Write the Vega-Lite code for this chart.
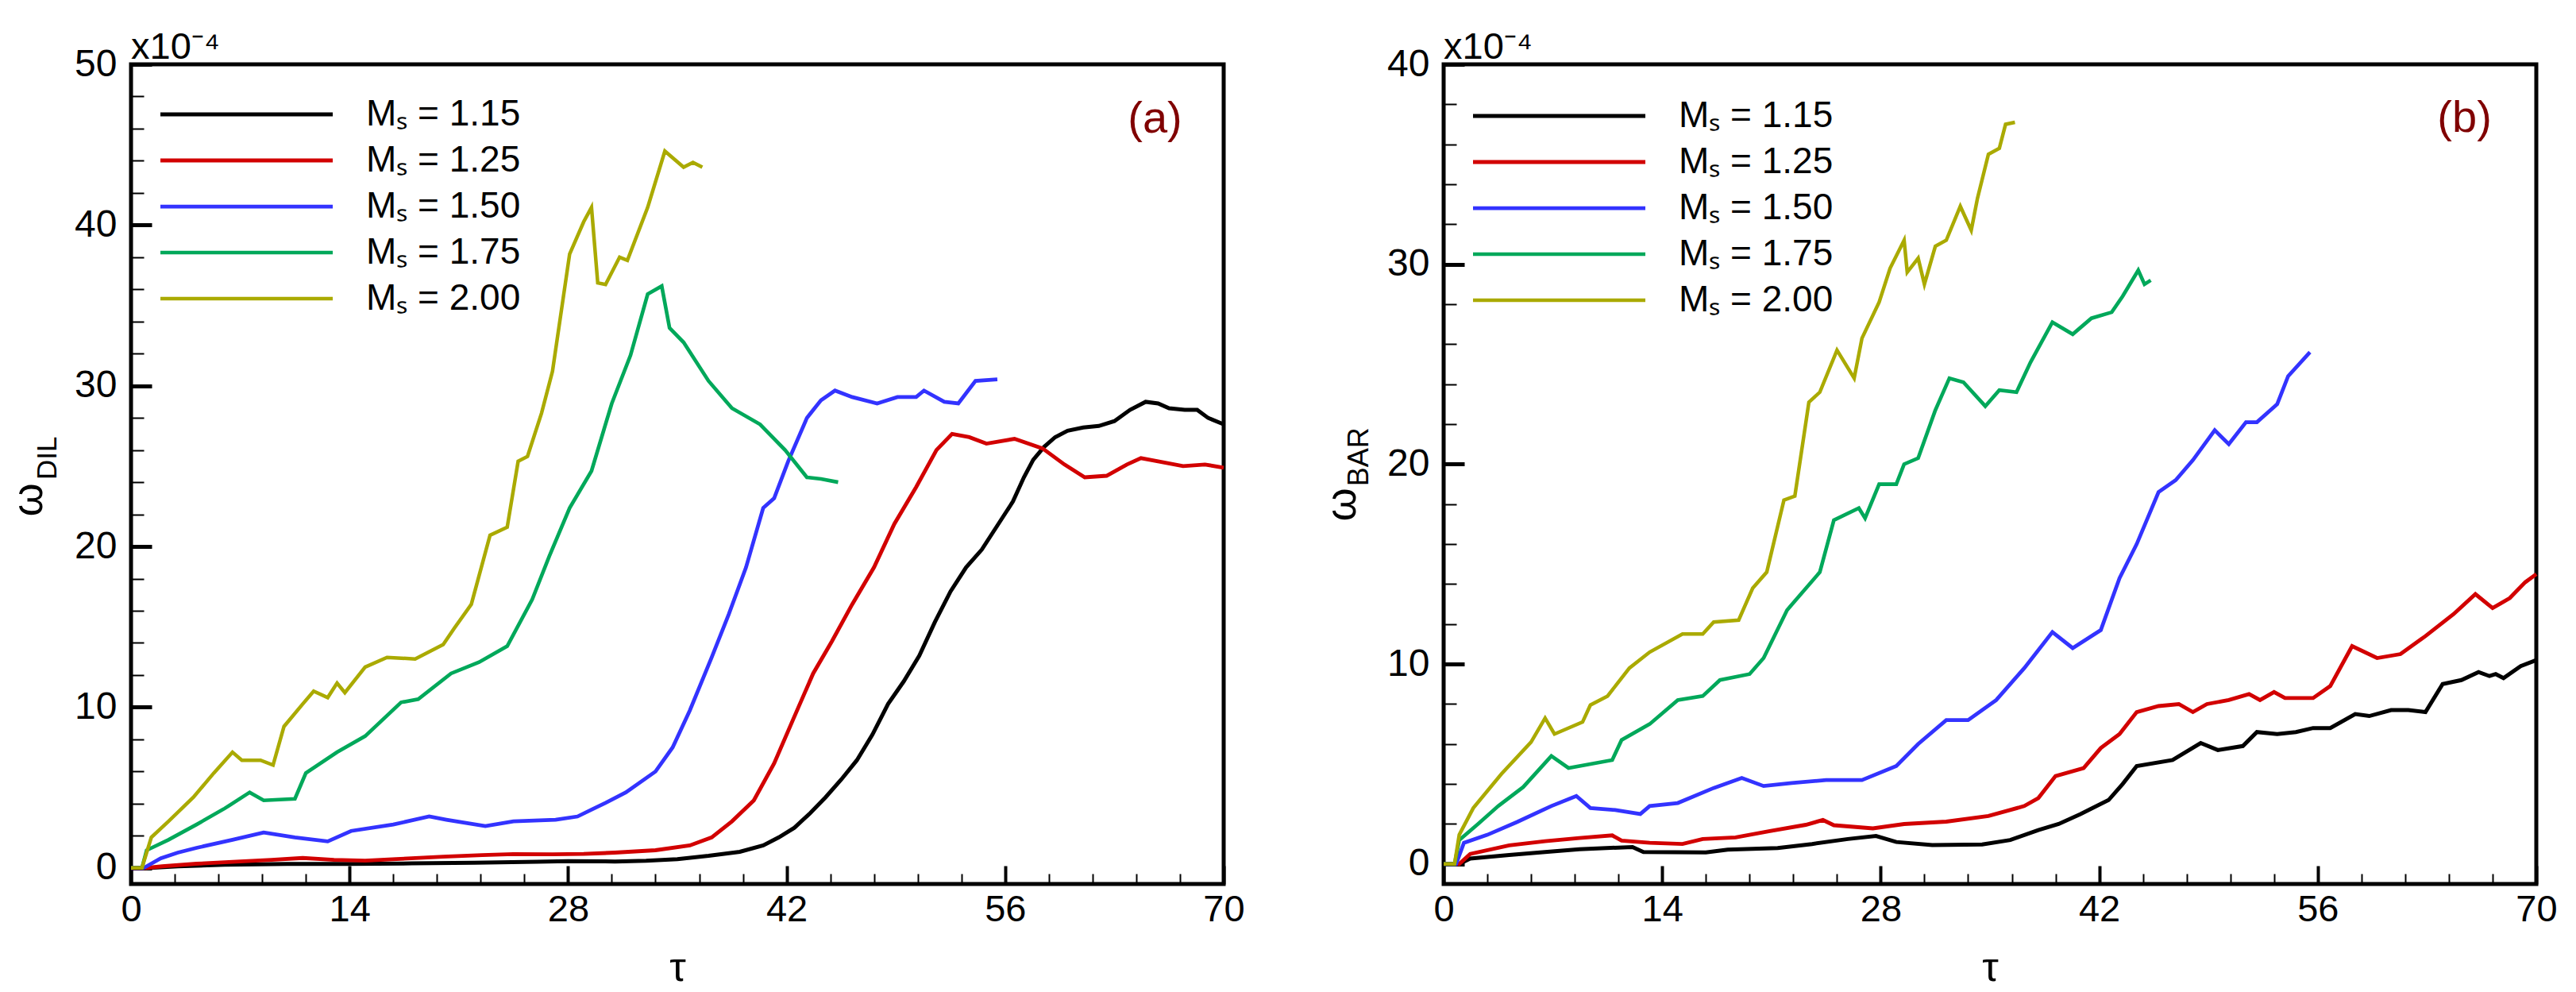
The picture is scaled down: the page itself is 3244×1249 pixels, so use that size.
{
  "$schema": "https://vega.github.io/schema/vega-lite/v6.json",
  "background": "white",
  "padding": {"left": 6, "top": 33, "right": 5, "bottom": 5},
  "spacing": 90,
  "datasets": {
    "dil": [
      {"m": "1.15", "t": 0, "w": 0}, {"m": "1.15", "t": 1.2, "w": 0}, {"m": "1.15", "t": 3, "w": 0.1}, {"m": "1.15", "t": 6, "w": 0.2},
      {"m": "1.15", "t": 10, "w": 0.25}, {"m": "1.15", "t": 14, "w": 0.25}, {"m": "1.15", "t": 18, "w": 0.28}, {"m": "1.15", "t": 22, "w": 0.32},
      {"m": "1.15", "t": 26, "w": 0.38}, {"m": "1.15", "t": 28, "w": 0.42}, {"m": "1.15", "t": 31, "w": 0.4}, {"m": "1.15", "t": 33, "w": 0.45},
      {"m": "1.15", "t": 35, "w": 0.55}, {"m": "1.15", "t": 37, "w": 0.75}, {"m": "1.15", "t": 39, "w": 1.0}, {"m": "1.15", "t": 40.5, "w": 1.4},
      {"m": "1.15", "t": 41.5, "w": 1.9}, {"m": "1.15", "t": 42.5, "w": 2.5}, {"m": "1.15", "t": 43.5, "w": 3.4}, {"m": "1.15", "t": 44.5, "w": 4.4},
      {"m": "1.15", "t": 45.5, "w": 5.5}, {"m": "1.15", "t": 46.5, "w": 6.7}, {"m": "1.15", "t": 47.5, "w": 8.3}, {"m": "1.15", "t": 48.5, "w": 10.2},
      {"m": "1.15", "t": 49.5, "w": 11.6}, {"m": "1.15", "t": 50.5, "w": 13.2}, {"m": "1.15", "t": 51.5, "w": 15.3}, {"m": "1.15", "t": 52.5, "w": 17.2},
      {"m": "1.15", "t": 53.5, "w": 18.7}, {"m": "1.15", "t": 54.5, "w": 19.8}, {"m": "1.15", "t": 55.5, "w": 21.3}, {"m": "1.15", "t": 56.5, "w": 22.8},
      {"m": "1.15", "t": 57.2, "w": 24.3}, {"m": "1.15", "t": 57.8, "w": 25.4}, {"m": "1.15", "t": 58.5, "w": 26.2}, {"m": "1.15", "t": 59.2, "w": 26.8},
      {"m": "1.15", "t": 60, "w": 27.2}, {"m": "1.15", "t": 61, "w": 27.4}, {"m": "1.15", "t": 62, "w": 27.5}, {"m": "1.15", "t": 63, "w": 27.8},
      {"m": "1.15", "t": 64, "w": 28.5}, {"m": "1.15", "t": 65, "w": 29.0}, {"m": "1.15", "t": 65.8, "w": 28.9}, {"m": "1.15", "t": 66.5, "w": 28.6},
      {"m": "1.15", "t": 67.5, "w": 28.5}, {"m": "1.15", "t": 68.3, "w": 28.5}, {"m": "1.15", "t": 69, "w": 28.0}, {"m": "1.15", "t": 70, "w": 27.6},

      {"m": "1.25", "t": 0, "w": 0}, {"m": "1.25", "t": 1, "w": 0}, {"m": "1.25", "t": 2, "w": 0.1}, {"m": "1.25", "t": 4.2, "w": 0.26},
      {"m": "1.25", "t": 7, "w": 0.4}, {"m": "1.25", "t": 9, "w": 0.5}, {"m": "1.25", "t": 11, "w": 0.62}, {"m": "1.25", "t": 13, "w": 0.5},
      {"m": "1.25", "t": 15, "w": 0.45}, {"m": "1.25", "t": 17, "w": 0.55}, {"m": "1.25", "t": 20, "w": 0.7}, {"m": "1.25", "t": 22.5, "w": 0.8},
      {"m": "1.25", "t": 24.5, "w": 0.86}, {"m": "1.25", "t": 27, "w": 0.85}, {"m": "1.25", "t": 29, "w": 0.87}, {"m": "1.25", "t": 31, "w": 0.95},
      {"m": "1.25", "t": 33.6, "w": 1.1}, {"m": "1.25", "t": 35.8, "w": 1.4}, {"m": "1.25", "t": 37.2, "w": 1.9}, {"m": "1.25", "t": 38.5, "w": 2.9},
      {"m": "1.25", "t": 39.9, "w": 4.2}, {"m": "1.25", "t": 41.2, "w": 6.5}, {"m": "1.25", "t": 42.4, "w": 9.2}, {"m": "1.25", "t": 43.7, "w": 12.1},
      {"m": "1.25", "t": 44.9, "w": 14.1}, {"m": "1.25", "t": 46.2, "w": 16.4}, {"m": "1.25", "t": 47.6, "w": 18.7}, {"m": "1.25", "t": 48.9, "w": 21.4},
      {"m": "1.25", "t": 50.3, "w": 23.7}, {"m": "1.25", "t": 51.6, "w": 26.0}, {"m": "1.25", "t": 52.6, "w": 27.0}, {"m": "1.25", "t": 53.7, "w": 26.8},
      {"m": "1.25", "t": 54.8, "w": 26.4}, {"m": "1.25", "t": 56.6, "w": 26.7}, {"m": "1.25", "t": 58.4, "w": 26.1}, {"m": "1.25", "t": 59.8, "w": 25.1},
      {"m": "1.25", "t": 61.1, "w": 24.3}, {"m": "1.25", "t": 62.5, "w": 24.4}, {"m": "1.25", "t": 63.8, "w": 25.1}, {"m": "1.25", "t": 64.7, "w": 25.5},
      {"m": "1.25", "t": 65.8, "w": 25.3}, {"m": "1.25", "t": 67.4, "w": 25.0}, {"m": "1.25", "t": 68.8, "w": 25.1}, {"m": "1.25", "t": 70, "w": 24.9},

      {"m": "1.50", "t": 0, "w": 0}, {"m": "1.50", "t": 0.8, "w": 0}, {"m": "1.50", "t": 1.0, "w": 0.1}, {"m": "1.50", "t": 1.9, "w": 0.6},
      {"m": "1.50", "t": 3, "w": 0.95}, {"m": "1.50", "t": 4.2, "w": 1.25}, {"m": "1.50", "t": 6.5, "w": 1.75}, {"m": "1.50", "t": 8.5, "w": 2.2},
      {"m": "1.50", "t": 10.5, "w": 1.9}, {"m": "1.50", "t": 12.6, "w": 1.65}, {"m": "1.50", "t": 14.1, "w": 2.3}, {"m": "1.50", "t": 16.8, "w": 2.7},
      {"m": "1.50", "t": 19.1, "w": 3.2}, {"m": "1.50", "t": 20.2, "w": 3.0}, {"m": "1.50", "t": 22.7, "w": 2.6}, {"m": "1.50", "t": 24.5, "w": 2.9},
      {"m": "1.50", "t": 27.2, "w": 3.0}, {"m": "1.50", "t": 28.6, "w": 3.2}, {"m": "1.50", "t": 30.4, "w": 4.05}, {"m": "1.50", "t": 31.7, "w": 4.7},
      {"m": "1.50", "t": 33.6, "w": 6.0}, {"m": "1.50", "t": 34.7, "w": 7.5}, {"m": "1.50", "t": 35.8, "w": 9.8}, {"m": "1.50", "t": 37.2, "w": 13.1},
      {"m": "1.50", "t": 38.3, "w": 15.8}, {"m": "1.50", "t": 39.4, "w": 18.7}, {"m": "1.50", "t": 40.5, "w": 22.4}, {"m": "1.50", "t": 41.2, "w": 23.0},
      {"m": "1.50", "t": 42.1, "w": 25.3}, {"m": "1.50", "t": 43.3, "w": 28.0}, {"m": "1.50", "t": 44.2, "w": 29.1}, {"m": "1.50", "t": 45.1, "w": 29.7},
      {"m": "1.50", "t": 46.2, "w": 29.3}, {"m": "1.50", "t": 47.8, "w": 28.9}, {"m": "1.50", "t": 49.1, "w": 29.3}, {"m": "1.50", "t": 50.3, "w": 29.3},
      {"m": "1.50", "t": 50.8, "w": 29.7}, {"m": "1.50", "t": 52.1, "w": 29.0}, {"m": "1.50", "t": 53, "w": 28.9}, {"m": "1.50", "t": 54.1, "w": 30.3},
      {"m": "1.50", "t": 55.5, "w": 30.4},

      {"m": "1.75", "t": 0, "w": 0}, {"m": "1.75", "t": 0.7, "w": 0}, {"m": "1.75", "t": 1, "w": 1.1}, {"m": "1.75", "t": 2.4, "w": 1.75},
      {"m": "1.75", "t": 4.2, "w": 2.7}, {"m": "1.75", "t": 6, "w": 3.7}, {"m": "1.75", "t": 7.6, "w": 4.7}, {"m": "1.75", "t": 8.5, "w": 4.2},
      {"m": "1.75", "t": 10.5, "w": 4.3}, {"m": "1.75", "t": 11.2, "w": 5.9}, {"m": "1.75", "t": 13.2, "w": 7.2}, {"m": "1.75", "t": 15, "w": 8.2},
      {"m": "1.75", "t": 17.3, "w": 10.3}, {"m": "1.75", "t": 18.4, "w": 10.5}, {"m": "1.75", "t": 20.5, "w": 12.1}, {"m": "1.75", "t": 22.3, "w": 12.8},
      {"m": "1.75", "t": 24.1, "w": 13.8}, {"m": "1.75", "t": 25.7, "w": 16.7}, {"m": "1.75", "t": 26.8, "w": 19.4}, {"m": "1.75", "t": 28.1, "w": 22.4},
      {"m": "1.75", "t": 29.5, "w": 24.7}, {"m": "1.75", "t": 30.8, "w": 28.9}, {"m": "1.75", "t": 32, "w": 31.9}, {"m": "1.75", "t": 33.1, "w": 35.7},
      {"m": "1.75", "t": 34, "w": 36.2}, {"m": "1.75", "t": 34.5, "w": 33.6}, {"m": "1.75", "t": 35.4, "w": 32.7}, {"m": "1.75", "t": 37, "w": 30.3},
      {"m": "1.75", "t": 38.5, "w": 28.6}, {"m": "1.75", "t": 40.3, "w": 27.6}, {"m": "1.75", "t": 41.9, "w": 26.0}, {"m": "1.75", "t": 43.3, "w": 24.3},
      {"m": "1.75", "t": 44.2, "w": 24.2}, {"m": "1.75", "t": 45.3, "w": 24.0},

      {"m": "2.00", "t": 0, "w": 0}, {"m": "2.00", "t": 0.7, "w": 0}, {"m": "2.00", "t": 1.3, "w": 1.9}, {"m": "2.00", "t": 2.4, "w": 2.9},
      {"m": "2.00", "t": 4, "w": 4.4}, {"m": "2.00", "t": 5.3, "w": 5.9}, {"m": "2.00", "t": 6.5, "w": 7.2}, {"m": "2.00", "t": 7.1, "w": 6.7},
      {"m": "2.00", "t": 8.3, "w": 6.7}, {"m": "2.00", "t": 9.1, "w": 6.4}, {"m": "2.00", "t": 9.8, "w": 8.8}, {"m": "2.00", "t": 11, "w": 10.2},
      {"m": "2.00", "t": 11.7, "w": 11.0}, {"m": "2.00", "t": 12.6, "w": 10.6}, {"m": "2.00", "t": 13.2, "w": 11.5}, {"m": "2.00", "t": 13.7, "w": 10.9},
      {"m": "2.00", "t": 15, "w": 12.5}, {"m": "2.00", "t": 16.4, "w": 13.1}, {"m": "2.00", "t": 18.2, "w": 13.0}, {"m": "2.00", "t": 20, "w": 13.9},
      {"m": "2.00", "t": 20.7, "w": 14.9}, {"m": "2.00", "t": 21.8, "w": 16.4}, {"m": "2.00", "t": 23, "w": 20.7}, {"m": "2.00", "t": 24.1, "w": 21.2},
      {"m": "2.00", "t": 24.8, "w": 25.3}, {"m": "2.00", "t": 25.4, "w": 25.6}, {"m": "2.00", "t": 26.3, "w": 28.3}, {"m": "2.00", "t": 27, "w": 30.9},
      {"m": "2.00", "t": 28.1, "w": 38.2}, {"m": "2.00", "t": 29, "w": 40.2}, {"m": "2.00", "t": 29.5, "w": 41.1}, {"m": "2.00", "t": 29.9, "w": 36.4},
      {"m": "2.00", "t": 30.4, "w": 36.3}, {"m": "2.00", "t": 31.3, "w": 38.0}, {"m": "2.00", "t": 31.8, "w": 37.8}, {"m": "2.00", "t": 33.1, "w": 41.1},
      {"m": "2.00", "t": 34.2, "w": 44.6}, {"m": "2.00", "t": 35.4, "w": 43.6}, {"m": "2.00", "t": 36, "w": 43.9}, {"m": "2.00", "t": 36.6, "w": 43.6}
    ],
    "bar": [
      {"m": "1.15", "t": 0, "w": 0}, {"m": "1.15", "t": 1, "w": 0}, {"m": "1.15", "t": 1.7, "w": 0.27}, {"m": "1.15", "t": 4.2, "w": 0.45},
      {"m": "1.15", "t": 6.5, "w": 0.6}, {"m": "1.15", "t": 8.7, "w": 0.74}, {"m": "1.15", "t": 12.1, "w": 0.85}, {"m": "1.15", "t": 12.8, "w": 0.6},
      {"m": "1.15", "t": 16.8, "w": 0.58}, {"m": "1.15", "t": 18.2, "w": 0.72}, {"m": "1.15", "t": 21.4, "w": 0.8}, {"m": "1.15", "t": 23.6, "w": 1.0},
      {"m": "1.15", "t": 25.9, "w": 1.25}, {"m": "1.15", "t": 27.7, "w": 1.4}, {"m": "1.15", "t": 29, "w": 1.1}, {"m": "1.15", "t": 31.3, "w": 0.95},
      {"m": "1.15", "t": 34.5, "w": 0.98}, {"m": "1.15", "t": 36.3, "w": 1.2}, {"m": "1.15", "t": 38.1, "w": 1.7}, {"m": "1.15", "t": 39.4, "w": 2.0},
      {"m": "1.15", "t": 40.8, "w": 2.5}, {"m": "1.15", "t": 42.6, "w": 3.2}, {"m": "1.15", "t": 43.5, "w": 4.0}, {"m": "1.15", "t": 44.4, "w": 4.9},
      {"m": "1.15", "t": 46.7, "w": 5.2}, {"m": "1.15", "t": 48.5, "w": 6.05}, {"m": "1.15", "t": 49.6, "w": 5.7}, {"m": "1.15", "t": 51.2, "w": 5.9},
      {"m": "1.15", "t": 52.1, "w": 6.6}, {"m": "1.15", "t": 53.4, "w": 6.5}, {"m": "1.15", "t": 54.6, "w": 6.6}, {"m": "1.15", "t": 55.7, "w": 6.8},
      {"m": "1.15", "t": 56.8, "w": 6.8}, {"m": "1.15", "t": 58.4, "w": 7.5}, {"m": "1.15", "t": 59.3, "w": 7.4}, {"m": "1.15", "t": 60.7, "w": 7.7},
      {"m": "1.15", "t": 61.8, "w": 7.7}, {"m": "1.15", "t": 62.9, "w": 7.6}, {"m": "1.15", "t": 64, "w": 9.0}, {"m": "1.15", "t": 65.2, "w": 9.2},
      {"m": "1.15", "t": 66.3, "w": 9.6}, {"m": "1.15", "t": 67, "w": 9.4}, {"m": "1.15", "t": 67.4, "w": 9.5}, {"m": "1.15", "t": 67.9, "w": 9.3},
      {"m": "1.15", "t": 69, "w": 9.9}, {"m": "1.15", "t": 70, "w": 10.2},

      {"m": "1.25", "t": 0, "w": 0}, {"m": "1.25", "t": 1, "w": 0}, {"m": "1.25", "t": 1.7, "w": 0.5}, {"m": "1.25", "t": 4.2, "w": 0.93},
      {"m": "1.25", "t": 6.5, "w": 1.14}, {"m": "1.25", "t": 8.7, "w": 1.3}, {"m": "1.25", "t": 10.8, "w": 1.43}, {"m": "1.25", "t": 11.4, "w": 1.17},
      {"m": "1.25", "t": 13.2, "w": 1.06}, {"m": "1.25", "t": 15.3, "w": 1.0}, {"m": "1.25", "t": 16.6, "w": 1.25}, {"m": "1.25", "t": 18.7, "w": 1.33},
      {"m": "1.25", "t": 20.9, "w": 1.65}, {"m": "1.25", "t": 23.2, "w": 1.96}, {"m": "1.25", "t": 24.3, "w": 2.2}, {"m": "1.25", "t": 25, "w": 1.94},
      {"m": "1.25", "t": 27.5, "w": 1.78}, {"m": "1.25", "t": 29.5, "w": 2.0}, {"m": "1.25", "t": 32.2, "w": 2.12}, {"m": "1.25", "t": 34.9, "w": 2.4},
      {"m": "1.25", "t": 37.2, "w": 2.9}, {"m": "1.25", "t": 38.1, "w": 3.3}, {"m": "1.25", "t": 39.2, "w": 4.4}, {"m": "1.25", "t": 41, "w": 4.8},
      {"m": "1.25", "t": 42.1, "w": 5.8}, {"m": "1.25", "t": 43.3, "w": 6.5}, {"m": "1.25", "t": 44.4, "w": 7.6}, {"m": "1.25", "t": 45.8, "w": 7.9},
      {"m": "1.25", "t": 47.1, "w": 8.0}, {"m": "1.25", "t": 48, "w": 7.6}, {"m": "1.25", "t": 48.9, "w": 8.0}, {"m": "1.25", "t": 50.3, "w": 8.2},
      {"m": "1.25", "t": 51.6, "w": 8.5}, {"m": "1.25", "t": 52.3, "w": 8.2}, {"m": "1.25", "t": 53.2, "w": 8.6}, {"m": "1.25", "t": 53.9, "w": 8.3},
      {"m": "1.25", "t": 55.7, "w": 8.3}, {"m": "1.25", "t": 56.8, "w": 8.9}, {"m": "1.25", "t": 58.2, "w": 10.9}, {"m": "1.25", "t": 59.8, "w": 10.3},
      {"m": "1.25", "t": 61.3, "w": 10.5}, {"m": "1.25", "t": 62.9, "w": 11.4}, {"m": "1.25", "t": 64.7, "w": 12.5}, {"m": "1.25", "t": 66.1, "w": 13.5},
      {"m": "1.25", "t": 67.2, "w": 12.8}, {"m": "1.25", "t": 68.3, "w": 13.3}, {"m": "1.25", "t": 69.3, "w": 14.1}, {"m": "1.25", "t": 70, "w": 14.5},

      {"m": "1.50", "t": 0, "w": 0}, {"m": "1.50", "t": 0.8, "w": 0}, {"m": "1.50", "t": 1.3, "w": 1.06}, {"m": "1.50", "t": 2.8, "w": 1.46},
      {"m": "1.50", "t": 4.7, "w": 2.1}, {"m": "1.50", "t": 6.9, "w": 2.9}, {"m": "1.50", "t": 8.5, "w": 3.4}, {"m": "1.50", "t": 9.4, "w": 2.8},
      {"m": "1.50", "t": 11, "w": 2.7}, {"m": "1.50", "t": 12.6, "w": 2.5}, {"m": "1.50", "t": 13.2, "w": 2.9}, {"m": "1.50", "t": 15, "w": 3.05},
      {"m": "1.50", "t": 17.3, "w": 3.8}, {"m": "1.50", "t": 19.1, "w": 4.3}, {"m": "1.50", "t": 20.5, "w": 3.9}, {"m": "1.50", "t": 22.3, "w": 4.05},
      {"m": "1.50", "t": 24.5, "w": 4.2}, {"m": "1.50", "t": 26.8, "w": 4.2}, {"m": "1.50", "t": 29, "w": 4.9}, {"m": "1.50", "t": 30.4, "w": 6.0},
      {"m": "1.50", "t": 32.2, "w": 7.2}, {"m": "1.50", "t": 33.6, "w": 7.2}, {"m": "1.50", "t": 35.4, "w": 8.2}, {"m": "1.50", "t": 37.2, "w": 9.8},
      {"m": "1.50", "t": 39, "w": 11.6}, {"m": "1.50", "t": 40.3, "w": 10.8}, {"m": "1.50", "t": 42.1, "w": 11.7}, {"m": "1.50", "t": 43.3, "w": 14.3},
      {"m": "1.50", "t": 44.4, "w": 16.0}, {"m": "1.50", "t": 45.8, "w": 18.6}, {"m": "1.50", "t": 46.9, "w": 19.2}, {"m": "1.50", "t": 48, "w": 20.2},
      {"m": "1.50", "t": 49.4, "w": 21.7}, {"m": "1.50", "t": 50.3, "w": 21.0}, {"m": "1.50", "t": 51.4, "w": 22.1}, {"m": "1.50", "t": 52.1, "w": 22.1},
      {"m": "1.50", "t": 53.4, "w": 23.0}, {"m": "1.50", "t": 54.1, "w": 24.4}, {"m": "1.50", "t": 55.5, "w": 25.6},

      {"m": "1.75", "t": 0, "w": 0}, {"m": "1.75", "t": 0.7, "w": 0}, {"m": "1.75", "t": 1, "w": 1.2}, {"m": "1.75", "t": 2.2, "w": 2.0},
      {"m": "1.75", "t": 3.5, "w": 2.9}, {"m": "1.75", "t": 5.1, "w": 3.85}, {"m": "1.75", "t": 6.9, "w": 5.4}, {"m": "1.75", "t": 8, "w": 4.8},
      {"m": "1.75", "t": 9.4, "w": 5.0}, {"m": "1.75", "t": 10.8, "w": 5.2}, {"m": "1.75", "t": 11.4, "w": 6.2}, {"m": "1.75", "t": 13.2, "w": 7.0},
      {"m": "1.75", "t": 15, "w": 8.2}, {"m": "1.75", "t": 16.6, "w": 8.4}, {"m": "1.75", "t": 17.7, "w": 9.2}, {"m": "1.75", "t": 19.6, "w": 9.5},
      {"m": "1.75", "t": 20.5, "w": 10.3}, {"m": "1.75", "t": 22, "w": 12.7}, {"m": "1.75", "t": 24.1, "w": 14.6}, {"m": "1.75", "t": 25, "w": 17.2},
      {"m": "1.75", "t": 26.6, "w": 17.8}, {"m": "1.75", "t": 27, "w": 17.3}, {"m": "1.75", "t": 27.9, "w": 19.0}, {"m": "1.75", "t": 29, "w": 19.0},
      {"m": "1.75", "t": 29.5, "w": 20.0}, {"m": "1.75", "t": 30.4, "w": 20.3}, {"m": "1.75", "t": 31.5, "w": 22.7}, {"m": "1.75", "t": 32.4, "w": 24.3},
      {"m": "1.75", "t": 33.3, "w": 24.1}, {"m": "1.75", "t": 34.7, "w": 22.9}, {"m": "1.75", "t": 35.6, "w": 23.7}, {"m": "1.75", "t": 36.7, "w": 23.6},
      {"m": "1.75", "t": 37.6, "w": 25.1}, {"m": "1.75", "t": 39, "w": 27.1}, {"m": "1.75", "t": 40.3, "w": 26.5}, {"m": "1.75", "t": 41.5, "w": 27.3},
      {"m": "1.75", "t": 42.8, "w": 27.6}, {"m": "1.75", "t": 43.5, "w": 28.4}, {"m": "1.75", "t": 44.5, "w": 29.7}, {"m": "1.75", "t": 44.9, "w": 29.0},
      {"m": "1.75", "t": 45.3, "w": 29.2},

      {"m": "2.00", "t": 0, "w": 0}, {"m": "2.00", "t": 0.7, "w": 0}, {"m": "2.00", "t": 1, "w": 1.46}, {"m": "2.00", "t": 1.9, "w": 2.8},
      {"m": "2.00", "t": 3.7, "w": 4.5}, {"m": "2.00", "t": 5.6, "w": 6.1}, {"m": "2.00", "t": 6.5, "w": 7.3}, {"m": "2.00", "t": 7.1, "w": 6.5},
      {"m": "2.00", "t": 8.9, "w": 7.1}, {"m": "2.00", "t": 9.4, "w": 7.95}, {"m": "2.00", "t": 10.5, "w": 8.4}, {"m": "2.00", "t": 11.9, "w": 9.8},
      {"m": "2.00", "t": 13.2, "w": 10.6}, {"m": "2.00", "t": 15.3, "w": 11.5}, {"m": "2.00", "t": 16.6, "w": 11.5}, {"m": "2.00", "t": 17.3, "w": 12.1},
      {"m": "2.00", "t": 18.9, "w": 12.2}, {"m": "2.00", "t": 19.8, "w": 13.8}, {"m": "2.00", "t": 20.7, "w": 14.6}, {"m": "2.00", "t": 21.8, "w": 18.2},
      {"m": "2.00", "t": 22.5, "w": 18.4}, {"m": "2.00", "t": 23.4, "w": 23.1}, {"m": "2.00", "t": 24.1, "w": 23.6}, {"m": "2.00", "t": 25.2, "w": 25.7},
      {"m": "2.00", "t": 26.3, "w": 24.3}, {"m": "2.00", "t": 26.8, "w": 26.3}, {"m": "2.00", "t": 27.9, "w": 28.1}, {"m": "2.00", "t": 28.6, "w": 29.8},
      {"m": "2.00", "t": 29.5, "w": 31.2}, {"m": "2.00", "t": 29.7, "w": 29.6}, {"m": "2.00", "t": 30.4, "w": 30.3}, {"m": "2.00", "t": 30.8, "w": 29.0},
      {"m": "2.00", "t": 31.5, "w": 30.9}, {"m": "2.00", "t": 32.2, "w": 31.2}, {"m": "2.00", "t": 33.1, "w": 32.9}, {"m": "2.00", "t": 33.8, "w": 31.7},
      {"m": "2.00", "t": 34.2, "w": 33.3}, {"m": "2.00", "t": 34.9, "w": 35.5}, {"m": "2.00", "t": 35.6, "w": 35.8}, {"m": "2.00", "t": 36, "w": 37.0},
      {"m": "2.00", "t": 36.6, "w": 37.1}
    ]
  },
  "hconcat": [
    {
      "width": 1376,
      "height": 1032,
      "title": {"text": "x10⁻⁴"},
      "layer": [
        {
          "data": {"name": "dil"},
          "mark": {"type": "line"},
          "encoding": {
            "x": {
              "field": "t", "type": "quantitative", "title": "τ",
              "scale": {"domain": [0, 70], "nice": false},
              "axis": {
                "values": [0, 2.8, 5.6, 8.4, 11.2, 14, 16.8, 19.6, 22.4, 25.2, 28, 30.8, 33.6, 36.4, 39.2, 42, 44.8, 47.6, 50.4, 53.2, 56, 58.8, 61.6, 64.4, 67.2, 70],
                "labelExpr": "abs(datum.value / 14 - round(datum.value / 14)) < 0.001 ? datum.label : ''",
                "tickSize": {"condition": {"test": "abs(datum.value / 14 - round(datum.value / 14)) < 0.001", "value": -23}, "value": -13},
                "tickWidth": {"condition": {"test": "abs(datum.value / 14 - round(datum.value / 14)) < 0.001", "value": 4}, "value": 2},
                "labelPadding": 32,
                "titleY": 121
              }
            },
            "y": {
              "field": "w", "type": "quantitative", "title": "ω",
              "scale": {"domain": [-1, 50], "nice": false, "zero": false},
              "axis": {
                "values": [0, 2, 4, 6, 8, 10, 12, 14, 16, 18, 20, 22, 24, 26, 28, 30, 32, 34, 36, 38, 40, 42, 44, 46, 48, 50],
                "labelExpr": "datum.value % 10 === 0 ? datum.label : ''",
                "tickSize": {"condition": {"test": "datum.value % 10 === 0", "value": -26}, "value": -16},
                "tickWidth": {"condition": {"test": "datum.value % 10 === 0", "value": 5}, "value": 2},
                "labelPadding": 44,
                "titleX": -113,
                "titleY": 548
              }
            },
            "color": {
              "field": "m", "type": "nominal",
              "scale": {"domain": ["1.15", "1.25", "1.50", "1.75", "2.00"], "range": ["#000000", "#d20000", "#3333ff", "#00a85a", "#aaaa00"]},
              "legend": {"orient": "none", "legendX": 14, "legendY": 40, "labelExpr": "'Mₛ = ' + datum.label"}
            },
            "strokeWidth": {
              "field": "m", "type": "ordinal",
              "scale": {"domain": ["1.15", "1.25", "1.50", "1.75", "2.00"], "range": [5, 4.5, 4, 3.5, 3.5]},
              "legend": null
            }
          }
        },
        {
          "data": {"values": [{"s": "(a)"}]},
          "mark": {"type": "text", "fontSize": 56, "color": "#800000", "align": "center", "baseline": "middle"},
          "encoding": {
            "x": {"datum": 65.6, "type": "quantitative", "title": "τ"},
            "y": {"datum": 46.6, "type": "quantitative", "title": "ω"},
            "text": {"field": "s"}
          }
        },
        {
          "data": {"values": [{"s": "DIL"}]},
          "mark": {"type": "text", "fontSize": 35, "angle": 270, "align": "center", "baseline": "alphabetic"},
          "encoding": {
            "x": {"datum": -4.78, "type": "quantitative", "title": "τ"},
            "y": {"datum": 25.5, "type": "quantitative", "title": "ω"},
            "text": {"field": "s"}
          }
        }
      ]
    },
    {
      "width": 1376,
      "height": 1032,
      "title": {"text": "x10⁻⁴"},
      "layer": [
        {
          "data": {"name": "bar"},
          "mark": {"type": "line"},
          "encoding": {
            "x": {
              "field": "t", "type": "quantitative", "title": "τ",
              "scale": {"domain": [0, 70], "nice": false},
              "axis": {
                "values": [0, 2.8, 5.6, 8.4, 11.2, 14, 16.8, 19.6, 22.4, 25.2, 28, 30.8, 33.6, 36.4, 39.2, 42, 44.8, 47.6, 50.4, 53.2, 56, 58.8, 61.6, 64.4, 67.2, 70],
                "labelExpr": "abs(datum.value / 14 - round(datum.value / 14)) < 0.001 ? datum.label : ''",
                "tickSize": {"condition": {"test": "abs(datum.value / 14 - round(datum.value / 14)) < 0.001", "value": -23}, "value": -13},
                "tickWidth": {"condition": {"test": "abs(datum.value / 14 - round(datum.value / 14)) < 0.001", "value": 4}, "value": 2},
                "labelPadding": 32,
                "titleY": 121
              }
            },
            "y": {
              "field": "w", "type": "quantitative", "title": "ω",
              "scale": {"domain": [-1, 40], "nice": false, "zero": false},
              "axis": {
                "values": [0, 2, 4, 6, 8, 10, 12, 14, 16, 18, 20, 22, 24, 26, 28, 30, 32, 34, 36, 38, 40],
                "labelExpr": "datum.value % 10 === 0 ? datum.label : ''",
                "tickSize": {"condition": {"test": "datum.value % 10 === 0", "value": -26}, "value": -16},
                "tickWidth": {"condition": {"test": "datum.value % 10 === 0", "value": 5}, "value": 2},
                "labelPadding": 44,
                "titleX": -112,
                "titleY": 554
              }
            },
            "color": {
              "field": "m", "type": "nominal",
              "scale": {"domain": ["1.15", "1.25", "1.50", "1.75", "2.00"], "range": ["#000000", "#d20000", "#3333ff", "#00a85a", "#aaaa00"]},
              "legend": {"orient": "none", "legendX": 14, "legendY": 42, "labelExpr": "'Mₛ = ' + datum.label"}
            },
            "strokeWidth": {
              "field": "m", "type": "ordinal",
              "scale": {"domain": ["1.15", "1.25", "1.50", "1.75", "2.00"], "range": [5, 4.5, 4, 3.5, 3.5]},
              "legend": null
            }
          }
        },
        {
          "data": {"values": [{"s": "(b)"}]},
          "mark": {"type": "text", "fontSize": 56, "color": "#800000", "align": "center", "baseline": "middle"},
          "encoding": {
            "x": {"datum": 65.4, "type": "quantitative", "title": "τ"},
            "y": {"datum": 37.3, "type": "quantitative", "title": "ω"},
            "text": {"field": "s"}
          }
        },
        {
          "data": {"values": [{"s": "BAR"}]},
          "mark": {"type": "text", "fontSize": 36, "angle": 270, "align": "center", "baseline": "alphabetic"},
          "encoding": {
            "x": {"datum": -4.84, "type": "quantitative", "title": "τ"},
            "y": {"datum": 20.36, "type": "quantitative", "title": "ω"},
            "text": {"field": "s"}
          }
        }
      ]
    }
  ],
  "resolve": {"legend": {"color": "independent", "strokeWidth": "independent"}},
  "config": {
    "font": "Liberation Sans",
    "view": {"stroke": "#000000", "strokeWidth": 5},
    "text": {"font": "Liberation Sans"},
    "axis": {
      "grid": false,
      "ticks": true,
      "tickColor": "#000000",
      "domain": false,
      "labelColor": "#000000",
      "labelFont": "Liberation Sans",
      "labelFontSize": 48,
      "labelFlush": false,
      "labelOverlap": false,
      "labelBound": false,
      "titleColor": "#000000",
      "titleFont": "Liberation Sans",
      "titleFontWeight": "normal"
    },
    "axisX": {"labelFontSize": 47, "titleFontSize": 52, "titleBaseline": "alphabetic"},
    "axisY": {"titleFontSize": 54, "titleAngle": 270, "titleBaseline": "alphabetic", "titleAlign": "center"},
    "legend": {
      "title": null,
      "symbolType": "M0,0H20",
      "symbolSize": 471,
      "symbolStrokeWidth": 5,
      "labelFont": "Liberation Sans",
      "labelFontSize": 46,
      "labelColor": "#000000",
      "labelOffset": 236,
      "labelLimit": 0,
      "rowPadding": 12
    },
    "title": {"anchor": "start", "frame": "group", "fontSize": 47, "fontWeight": "normal", "font": "Liberation Sans", "color": "#000000", "offset": -27}
  }
}
